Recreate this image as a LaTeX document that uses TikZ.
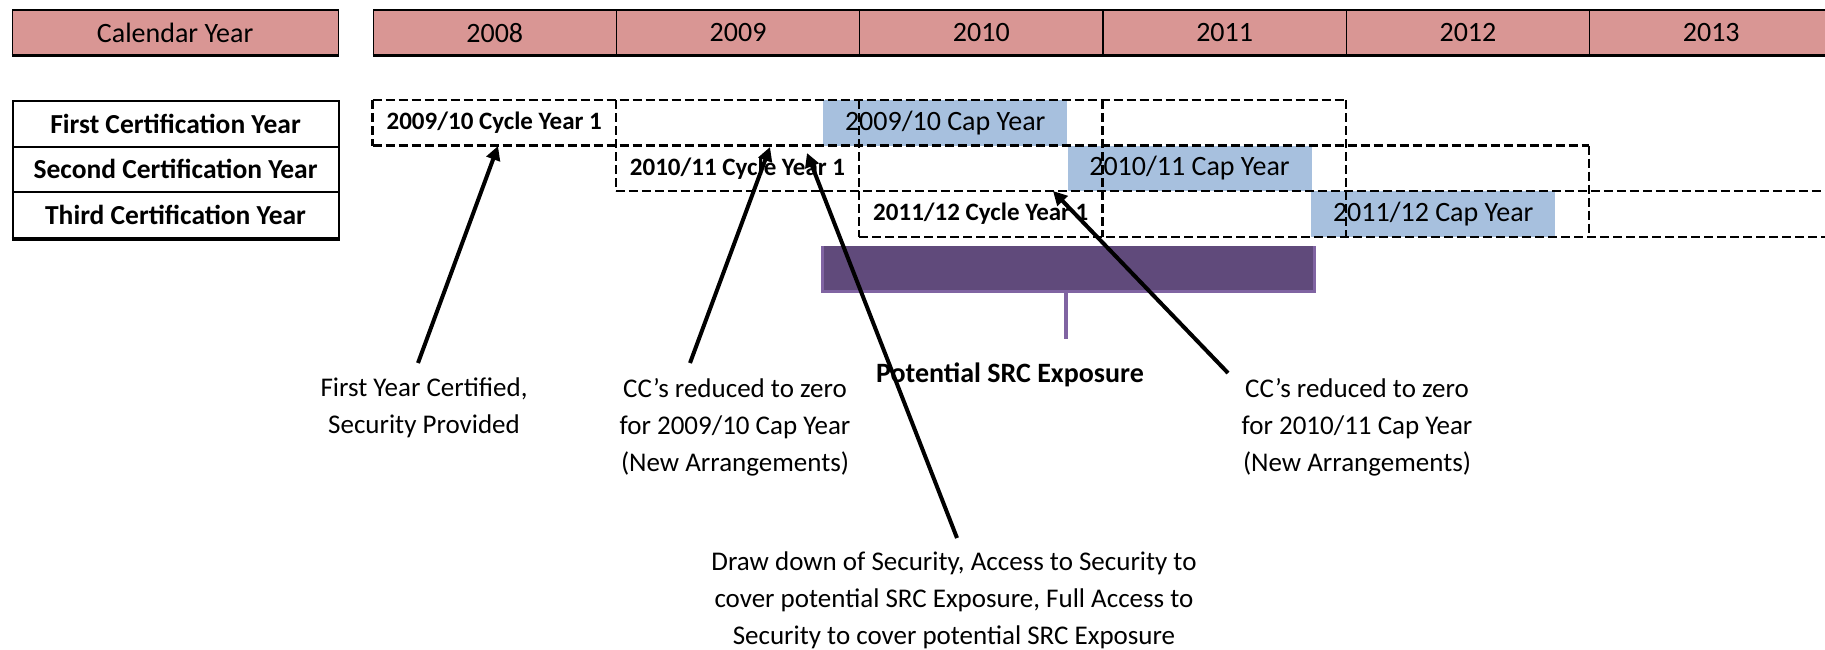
\documentclass[tikz,border=0pt]{standalone}
\usepackage{fontspec}
\setmainfont{Carlito}
\usetikzlibrary{arrows.meta}
\definecolor{hdrred}{HTML}{D99694}
\definecolor{capblue}{HTML}{A7C0DE}
\definecolor{purp}{HTML}{604A7B}
\definecolor{purplt}{HTML}{8064A2}
\begin{document}
\begin{tikzpicture}[x=1pt,y=-1pt,
  hdrbox/.style={draw=black,line width=1.2pt,fill=hdrred,minimum width=243.3pt,minimum height=45.4pt,inner sep=0pt,anchor=north west,font=\fontsize{28}{34}\selectfont},
  lblbox/.style={draw=black,line width=2pt,minimum width=325.9pt,minimum height=45.5pt,inner sep=0pt,anchor=north west,font=\bfseries\fontsize{27.5}{32}\selectfont},
  dcell/.style={draw=black,line width=2.2pt,dash pattern=on 9pt off 4pt},
  cyctext/.style={inner sep=0pt,font=\bfseries\fontsize{25}{30}\selectfont},
  capbox/.style={fill=capblue,minimum width=244pt,minimum height=45.5pt,inner sep=0pt,anchor=north west,font=\fontsize{28}{34}\selectfont},
  anno/.style={align=center,inner sep=0pt,anchor=north,font=\fontsize{27}{37}\selectfont},
  arr/.style={line width=4pt,-{Triangle[length=14pt,width=14pt]}}
]
\useasboundingbox (0,0) rectangle (1825,649);
\clip (0,0) rectangle (1825,649);

% header
\node[hdrbox,minimum width=325.9pt] (cal) at (11.6,9.3) {Calendar Year};
\node[hdrbox] (y08) at (372.5,9.3) {2008};
\node[hdrbox] (y09) at (615.8,9.3) {2009};
\node[hdrbox] (y10) at (859.1,9.3) {2010};
\node[hdrbox] (y11) at (1102.4,9.3) {2011};
\node[hdrbox] (y12) at (1345.7,9.3) {2012};
\node[hdrbox] (y13) at (1589,9.3) {2013};
\draw[line width=3pt] (cal.south west) -- (cal.south east);
\draw[line width=3pt] (y08.south west) -- (y13.south east);

% left labels
\node[lblbox] (l1) at (11.6,100) {First Certification Year};
\node[lblbox] (l2) at (11.6,145.5) {Second Certification Year};
\node[lblbox,minimum height=46pt] (l3) at (11.6,191) {Third Certification Year};
\draw[line width=3.5pt] (l3.south west) -- (l3.south east);

% cap year blue boxes
\node[capbox] (cap1) at (823,100) {2009/10 Cap Year};
\node[capbox] (cap2) at (1067.3,145.5) {2010/11 Cap Year};
\node[capbox,minimum height=46pt] (cap3) at (1311,191) {2011/12 Cap Year};

% dashed grid: horizontal lines
\draw[dcell] (372.5,100) -- (1345.7,100);
\draw[dcell] (372.5,145.5) -- (1589,145.5);
\draw[dcell] (615.8,191) -- (1832.3,191);
\draw[dcell] (859.1,237) -- (1832.3,237);
% vertical lines
\draw[dcell] (372.5,100) -- (372.5,145.5);
\draw[dcell] (615.8,100) -- (615.8,191);
\draw[dcell] (859.1,100) -- (859.1,237);
\draw[dcell] (1102.4,100) -- (1102.4,237);
\draw[dcell] (1345.7,100) -- (1345.7,237);
\draw[dcell] (1589,145.5) -- (1589,237);

% cycle texts
\node[cyctext] (cy1) at (494.2,122.8) {2009/10 Cycle Year 1};
\node[cyctext] (cy2) at (737.5,168.3) {2010/11 Cycle Year 1};
\node[cyctext] (cy3) at (980.8,214) {2011/12 Cycle Year 1};

% potential SRC exposure bar
\node[fill=purplt,minimum width=495pt,minimum height=47pt,inner sep=0pt,anchor=north west] (barsh) at (821,246) {};
\node[fill=purp,minimum width=489pt,minimum height=44pt,inner sep=0pt,anchor=north west] (bar) at (824,246) {};
\coordinate (tickend) at (1066,339);
\draw[purplt,line width=3.5pt] (barsh.south -| tickend) -- (tickend);
\node[inner sep=0pt,anchor=base,font=\bfseries\fontsize{28}{34}\selectfont] (pse) at (1010,382) {Potential SRC Exposure};

% annotations
\node[anno] (n1) at (424,378) {First Year Certified,\\Security Provided};
\node[anno] (n2) at (735,378) {CC’s reduced to zero\\for 2009/10 Cap Year\\(New Arrangements)};
\node[anno] (n3) at (1357,378) {CC’s reduced to zero\\for 2010/11 Cap Year\\(New Arrangements)};
\node[anno] (n4) at (954,552) {Draw down of Security, Access to Security to\\cover potential SRC Exposure, Full Access to\\Security to cover potential SRC Exposure};

% arrows
\coordinate (s1) at (418,363);  \coordinate (t1) at (498,146);
\coordinate (s2) at (690,363);  \coordinate (t2) at (770,147);
\coordinate (s3) at (957,538);  \coordinate (t3) at (807,153);
\coordinate (s4) at (1228,373); \coordinate (t4) at (1053,191);
\draw[arr] (s1) -- (t1);
\draw[arr] (s2) -- (t2);
\draw[arr] (s3) -- (t3);
\draw[arr] (s4) -- (t4);
\end{tikzpicture}
\end{document}
